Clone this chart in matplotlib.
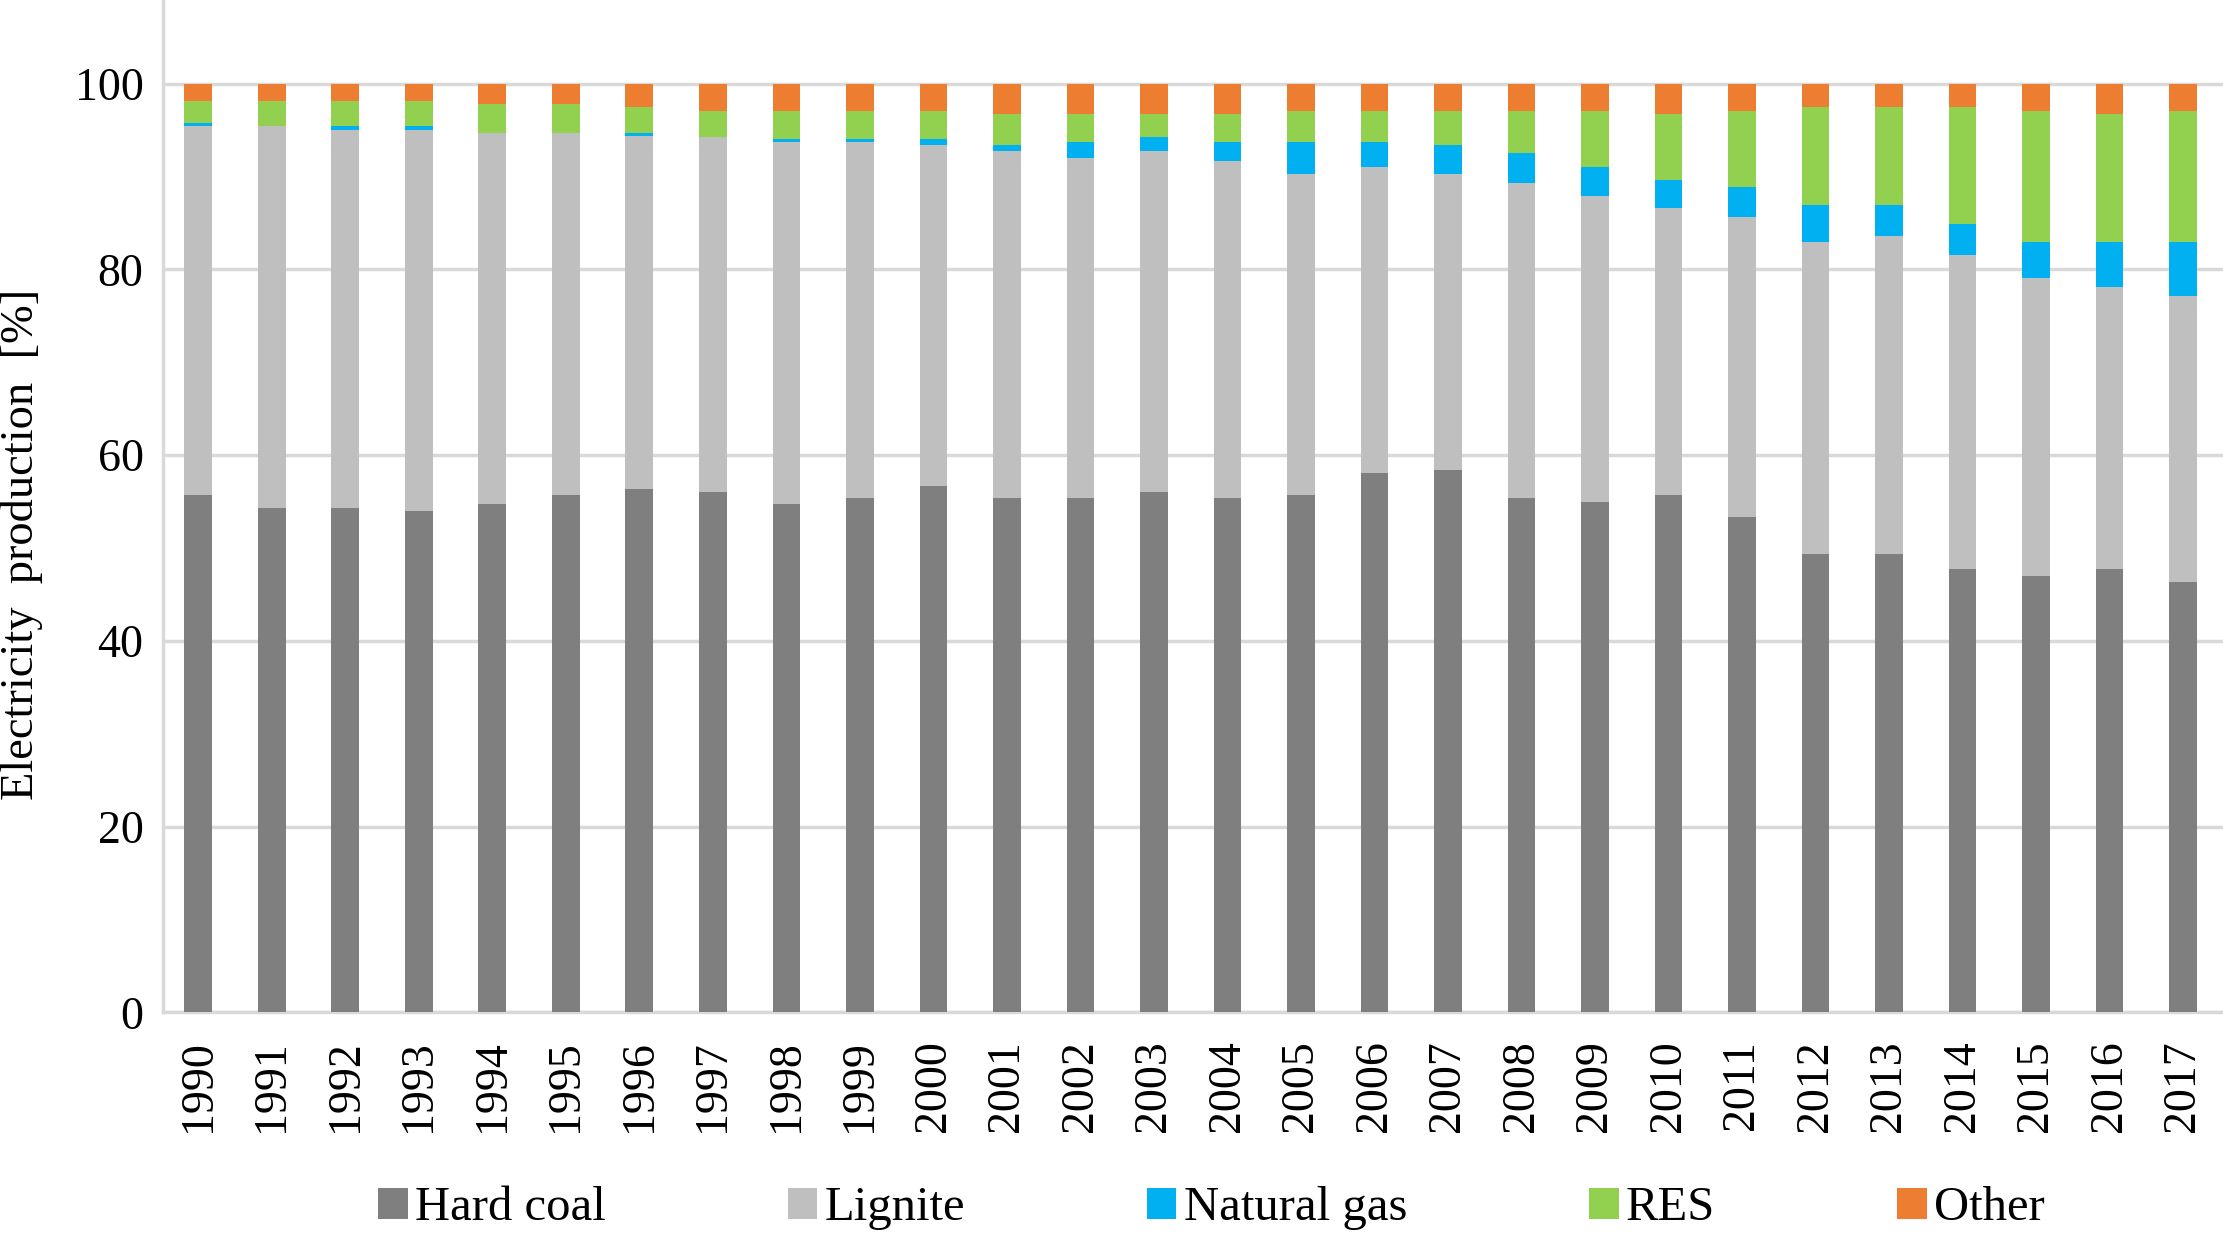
import matplotlib
matplotlib.use('Agg')
import matplotlib.pyplot as plt
import numpy as np

plt.rcParams['font.family'] = ['Liberation Serif', 'DejaVu Serif']

years = [str(y) for y in range(1990, 2018)]

hard_coal = [55.7, 54.3, 54.3, 54.0, 54.7, 55.7, 56.4, 56.0, 54.7, 55.4,
             56.7, 55.4, 55.4, 56.0, 55.4, 55.7, 58.1, 58.4, 55.4, 55.0,
             55.7, 53.3, 49.4, 49.4, 47.7, 47.0, 47.7, 46.3]
lignite = [39.7, 41.1, 40.7, 41.0, 40.0, 39.0, 38.0, 38.3, 39.0, 38.3,
           36.7, 37.3, 36.6, 36.7, 36.3, 34.6, 32.9, 31.9, 33.9, 32.9,
           30.9, 32.3, 33.5, 34.2, 33.8, 32.1, 30.4, 30.8]
natural_gas = [0.35, 0.0, 0.4, 0.4, 0.0, 0.0, 0.3, 0.0, 0.3, 0.3,
               0.6, 0.7, 1.7, 1.6, 2.0, 3.4, 2.7, 3.1, 3.2, 3.1,
               3.0, 3.3, 4.0, 3.3, 3.4, 3.8, 4.8, 5.8]
res = [2.35, 2.7, 2.7, 2.7, 3.1, 3.1, 2.8, 2.8, 3.1, 3.1,
       3.1, 3.35, 3.05, 2.45, 3.05, 3.4, 3.4, 3.7, 4.6, 6.1,
       7.15, 8.2, 10.6, 10.6, 12.6, 14.2, 13.85, 14.2]
other = [1.9, 1.9, 1.9, 1.9, 2.2, 2.2, 2.5, 2.9, 2.9, 2.9,
         2.9, 3.25, 3.25, 3.25, 3.25, 2.9, 2.9, 2.9, 2.9, 2.9,
         3.25, 2.9, 2.5, 2.5, 2.5, 2.9, 3.25, 2.9]

series = [('Hard coal', hard_coal, '#7f7f7f'),
          ('Lignite', lignite, '#bfbfbf'),
          ('Natural gas', natural_gas, '#00b0f0'),
          ('RES', res, '#92d050'),
          ('Other', other, '#ed7d31')]

fig = plt.figure(figsize=(22.23, 12.33), dpi=100)
ax = fig.add_axes([0.0733, 0.179, 0.9267, 0.821])

x = np.arange(len(years))
bottom = np.zeros(len(years))
for name, vals, color in series:
    ax.bar(x, vals, width=0.38, bottom=bottom, color=color, label=name, zorder=3)
    bottom += np.array(vals)

ax.set_xlim(-0.483, len(years) - 1 + 0.544)
ax.set_ylim(0, 109)
ax.set_yticks(range(0, 101, 20))
ax.set_xticks(x)
ax.set_xticklabels(years, rotation=90)
ax.yaxis.grid(True, color='#d9d9d9', linewidth=2.5, zorder=0)
ax.tick_params(axis='both', length=0, labelsize=33)
ax.tick_params(axis='x', pad=20)
ax.tick_params(axis='y', pad=14)

for s in ['top', 'right']:
    ax.spines[s].set_visible(False)
ax.spines['left'].set_color('#d9d9d9')
ax.spines['left'].set_linewidth(2.5)
ax.spines['bottom'].set_color('#d9d9d9')
ax.spines['bottom'].set_linewidth(2.5)

ax.set_ylabel('Electricity  production  [%]', fontsize=33.5)
ax.yaxis.set_label_coords(-0.058, 0.462)

fig.legend(loc='center', bbox_to_anchor=(0.545, 0.02), ncol=5, frameon=False,
           fontsize=35, handlelength=0.6, handleheight=0.6, handletextpad=0.15,
           columnspacing=3.75)

fig.savefig('out.png', dpi=100)
